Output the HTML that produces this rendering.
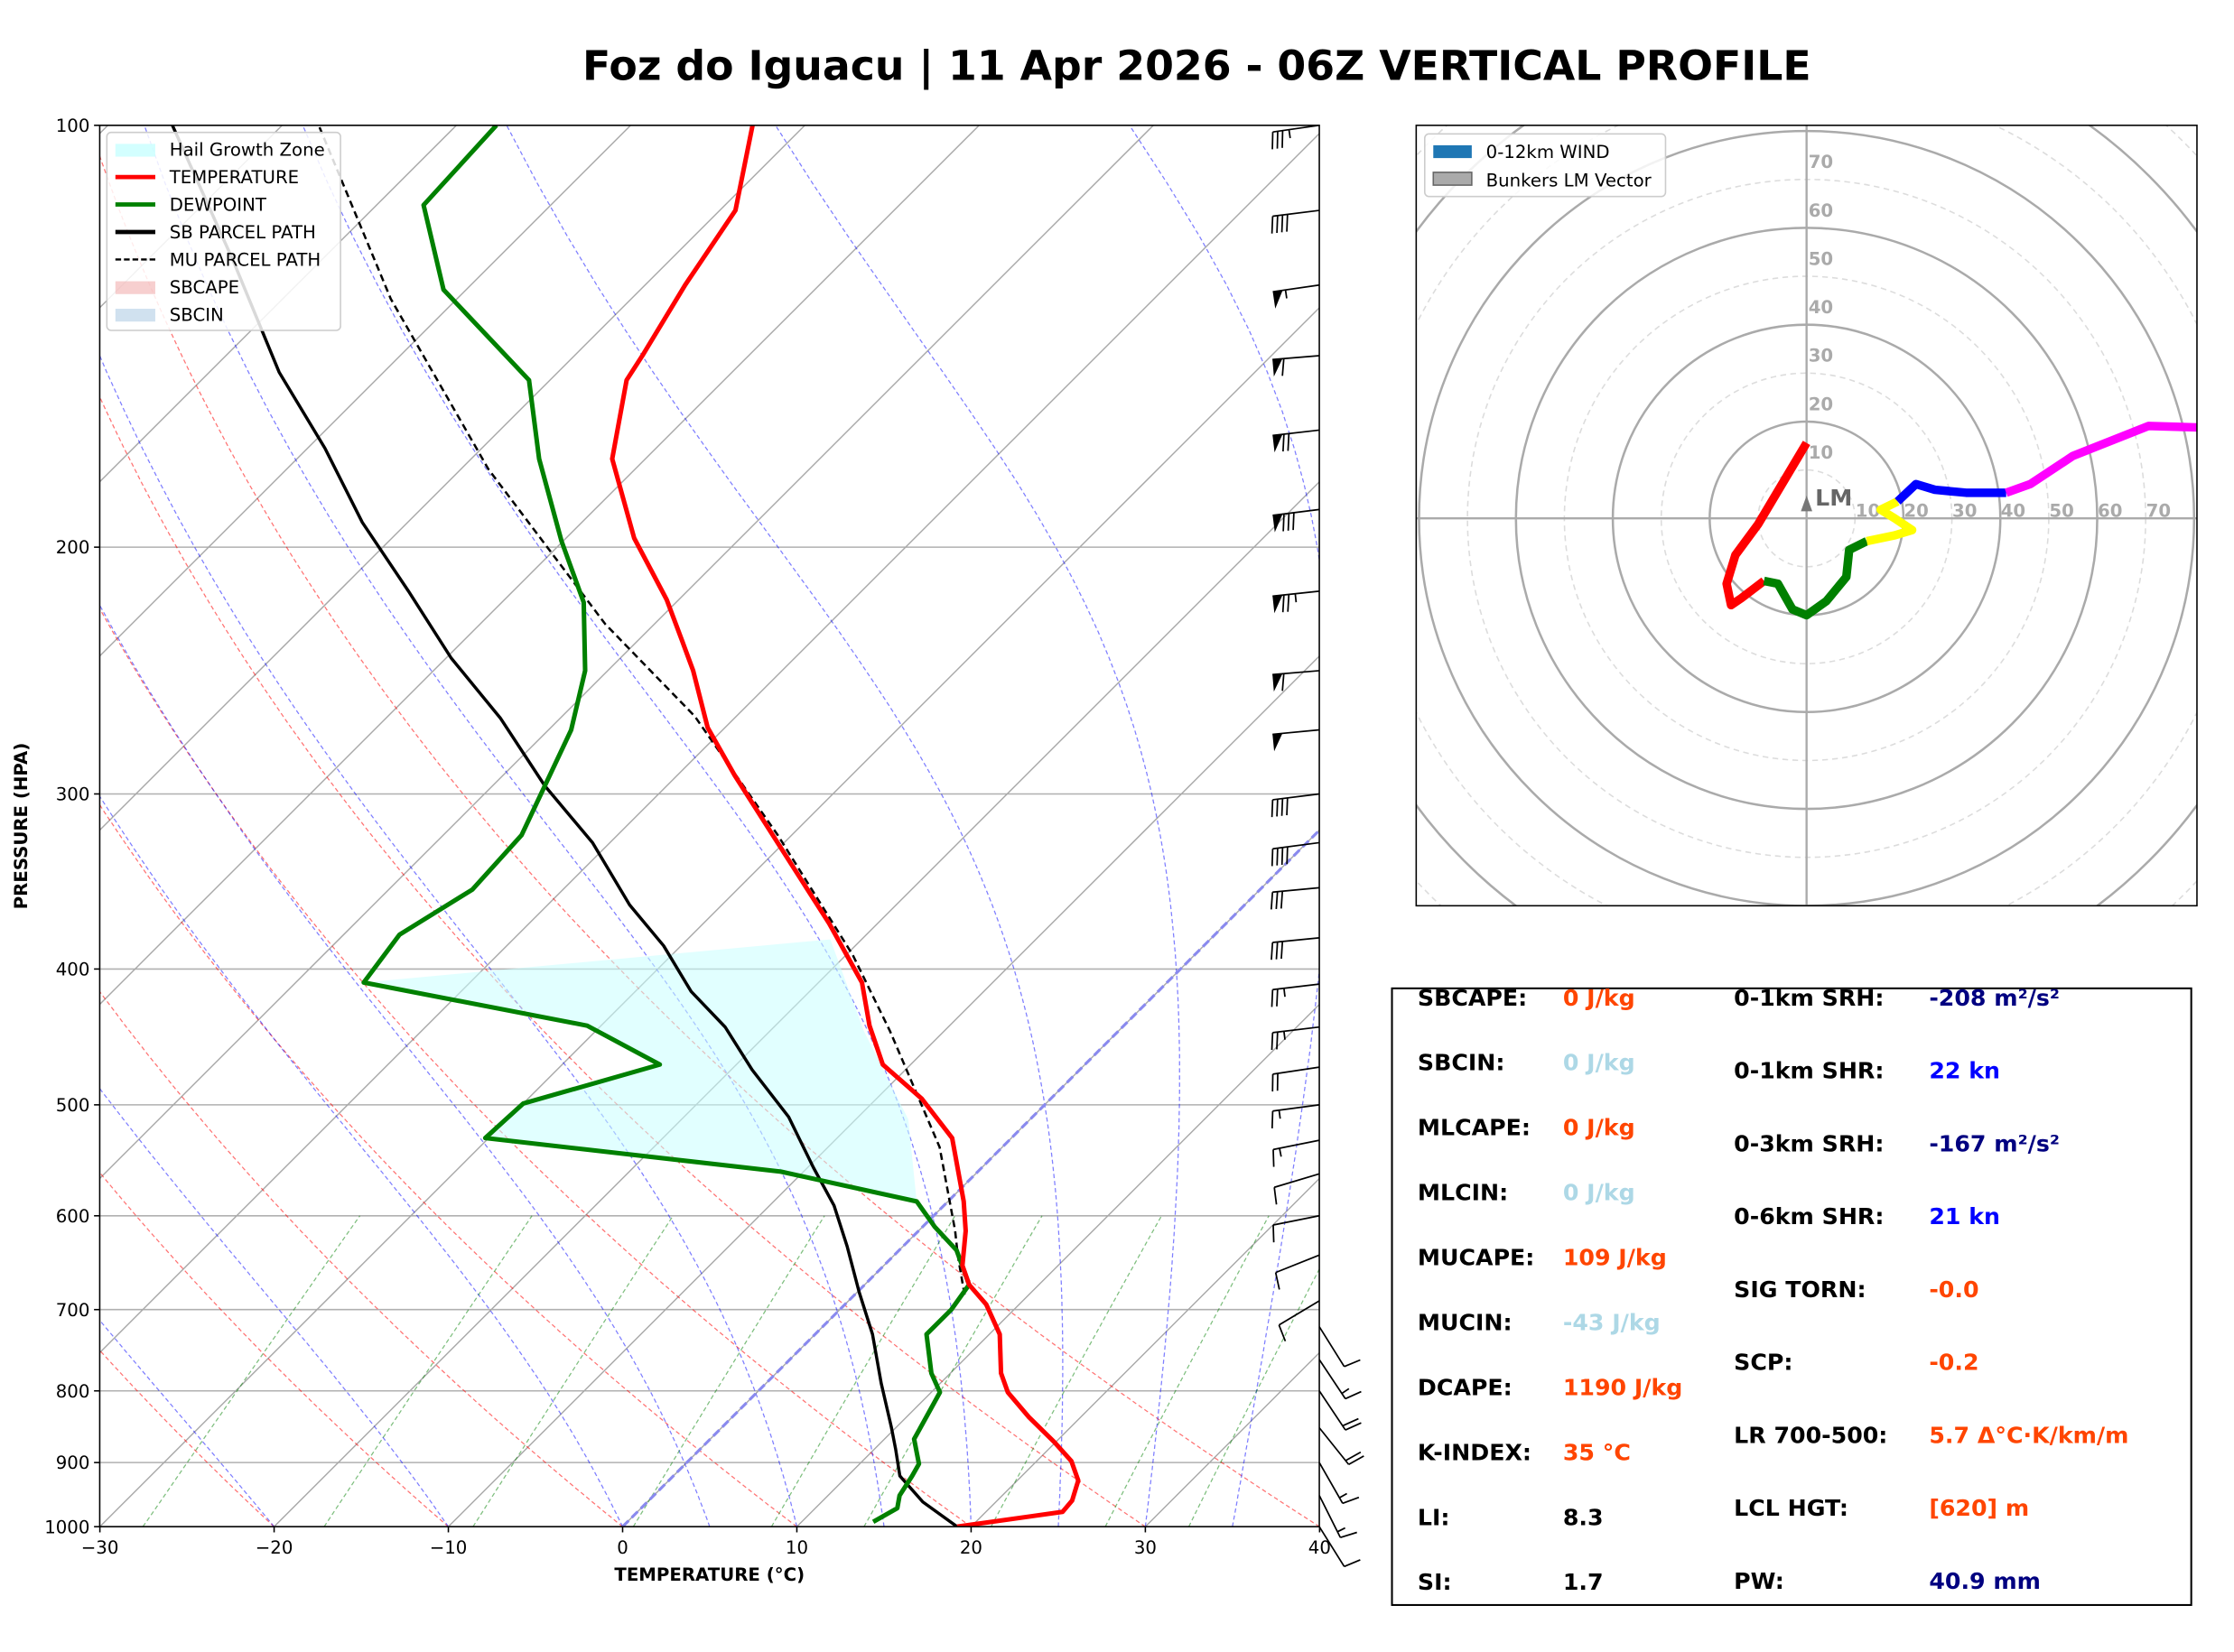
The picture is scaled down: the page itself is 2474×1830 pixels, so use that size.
<!DOCTYPE html>
<html><head><meta charset="utf-8"><style>
html,body{margin:0;padding:0;background:#fff}
svg{display:block}
text{font-family:"DejaVu Sans","Liberation Sans",sans-serif}
</style></head><body>
<svg id="fig" xmlns="http://www.w3.org/2000/svg" width="2474" height="1830" viewBox="0 0 1568 1160" preserveAspectRatio="none">
<rect x="0" y="0" width="1568" height="1160" fill="#fff"/>
<text x="840" y="56" font-size="29" font-weight="bold" text-anchor="middle">Foz do Iguacu | 11 Apr 2026 - 06Z VERTICAL PROFILE</text>
<defs><clipPath id="skc"><rect x="70" y="88" width="856" height="984"/></clipPath>
<clipPath id="hoc"><rect x="994" y="88" width="548" height="548"/></clipPath></defs>
<g id="skew"></g>
<g id="hodo"></g>
<g id="table">
<rect x="977" y="694" width="561" height="433" fill="#fff" stroke="#000" stroke-width="1.3"/>
</g>
</svg>
<script>
// ---------- DATA ----------
const tempP = [1000,976,958,927,898,870,835,802,777,729,694,672,651,615,586,528,495,468,439,409,371,326,291,269,245,233,218,197,173,152,146,130,115,100];
const tempT = [19.2,24.4,24.3,23.5,22,19.9,17,14.4,12.9,10.6,8.1,6,4.5,2.7,0.9,-3.4,-7.4,-11.6,-14.6,-17.5,-22.8,-30.2,-36.7,-41,-45.1,-47.5,-50.7,-56.1,-61.9,-65.6,-66.1,-67.7,-69.1,-73];
const dewP = [992,970,950,920,902,866,828,802,777,729,700,672,635,611,586,558,528,499,468,439,409,378,351,321,270,245,219,198,173,152,131,114,100];
const dewT = [14.1,14.7,14.1,13.7,13.4,11.7,11,10.5,8.9,6.4,6.4,6.0,3.3,0.7,-1.8,-11.3,-30.2,-30,-24.4,-30.8,-46.1,-46.8,-45.2,-45.5,-48.7,-51.3,-55.3,-60.1,-66.1,-71.2,-81.3,-87.3,-87.7];
const sbP = [1000,960,920,880,849,790,729,680,631,590,554,510,472,440,415,385,360,325,296,265,240,215,192,170,150,125,100];
const sbT = [19.2,15.8,13,11.2,9.7,6.6,3.3,0.1,-3.2,-6.3,-9.7,-14,-18.8,-22.8,-26.8,-31,-35.3,-41,-47,-53.4,-59.7,-66,-72.6,-79,-86,-95,-106.3];
const muP = [683,641,615,536,443,391,321,264,227,176,133,100];
const muT = [6.3,3.7,2.1,-3.6,-13.1,-19.6,-30.8,-42.4,-52.8,-68.4,-83.8,-97.9];
const hailP = [586,558,528,499,468,439,409,381,443,512,586];
const hailT = [-1.8,-11.3,-30.2,-30,-24.4,-30.8,-46.1,-21.8,-14.6,-7,-1.8];
const pTicks = [100,200,300,400,500,600,700,800,900,1000];
const tTicks = [-30,-20,-10,0,10,20,30,40];
const barbP = [100,115,130,146,165,188,215,245,270,300,325,350,380,410,440,470,500,530,560,600,640,690,720,760,800,850,900,950,1000];
const barbU = [35,40,55,60,70,80,75,60,52,40,38,32,30,25,25,20,15,15,10,10,10,10,-5,-8,-10,-12,-8,-6,-5];
const barbV = [-5,-5,-8,-5,-8,-10,-8,-5,-5,-5,-5,-3,-3,-3,-3,-3,-2,-3,-3,-2,-4,-6,-8,-12,-15,-15,-14,-12,-8];
const hodoSegColors = ['red','green','yellow','blue','magenta'];
const hodoU0 = [0,-10,-14.7,-16.5,-15.6,-13.5,-8.8];
const hodoV0 = [15.6,-1.2,-7.6,-13.5,-17.9,-16.5,-12.9];
const hodoU1 = [-8.8,-5.9,-2.9,0,4.1,8.2,8.8,12.4];
const hodoV1 = [-12.9,-13.5,-18.8,-20,-17.1,-12.1,-6.5,-4.7];
const hodoU2 = [12.4,18.2,21.8,18.2,15.3,18.8];
const hodoV2 = [-4.7,-3.5,-2.4,0,1.8,3.5];
const hodoU3 = [18.8,22.6,26.5,32.9,41.2];
const hodoV3 = [3.5,7.1,5.9,5.3,5.3];
const hodoU4 = [41.2,46.2,55,70.6,80.6];
const hodoV4 = [5.3,7.1,12.9,19.1,18.8];
const leftLabels = ['SBCAPE:','SBCIN:','MLCAPE:','MLCIN:','MUCAPE:','MUCIN:','DCAPE:','K-INDEX:','LI:','SI:'];
const leftValues = ['0 J/kg','0 J/kg','0 J/kg','0 J/kg','109 J/kg','-43 J/kg','1190 J/kg','35 °C','8.3','1.7'];
const leftColors = ['#ff4500','#add8e6','#ff4500','#add8e6','#ff4500','#add8e6','#ff4500','#ff4500','#000','#000'];
const rightLabels = ['0-1km SRH:','0-1km SHR:','0-3km SRH:','0-6km SHR:','SIG TORN:','SCP:','LR 700-500:','LCL HGT:','PW:'];
const rightValues = ['-208 m²/s²','22 kn','-167 m²/s²','21 kn','-0.0','-0.2','5.7 Δ°C·K/km/m','[620] m','40.9 mm'];
const rightColors = ['#000080','#0000ff','#000080','#0000ff','#ff4500','#ff4500','#ff4500','#ff4500','#000080'];

// ---------- HELPERS ----------
const NS='http://www.w3.org/2000/svg';
function mk(parent,tag,attrs,txt){const e=document.createElementNS(NS,tag);for(const k in attrs)e.setAttribute(k,attrs[k]);if(txt!==undefined)e.textContent=txt;parent.appendChild(e);return e;}
const L=70,R=926,T0=88,B=1072;
function yP(p){return B-Math.log10(1000/p)*984;}
function xT(t,p){return 437+12.23*t+(B-yP(p));}
function pathTP(ps,ts){return ps.map((p,i)=>(i?'L':'M')+xT(ts[i],p).toFixed(1)+' '+yP(p).toFixed(1)).join(' ');}
function minus(s){return String(s).replace('-','\u2212');}

const skew=document.getElementById('skew');
const bg=mk(skew,'g',{'clip-path':'url(#skc)'});


pTicks.forEach(p=>{const l=mk(bg,'line',{x1:L,x2:R,y1:yP(p),y2:yP(p),stroke:'#b0b0b0','stroke-width':1});

});
for(let t=-130;t<=40;t+=10){const l=mk(bg,'line',{x1:xT(t,1000),y1:yP(1000),x2:xT(t,100),y2:yP(100),stroke:'#a8a8a8','stroke-width':0.9});

}
const plist=[];for(let p=1000;p>=100;p-=5)plist.push(p);
for(let t=-40;t<=40;t+=10){const th=t+273.15;const ts=plist.map(p=>th*Math.pow(p/1000,0.286)-273.15);
const l=mk(bg,'path',{d:pathTP(plist,ts),fill:'none',stroke:'rgba(255,0,0,0.55)','stroke-width':0.8,'stroke-dasharray':'3,2'});

}
function es(tc){return 6.112*Math.exp(17.67*tc/(tc+243.5));}
[-20,-10,0,5,10,15,20,25,30,35].forEach(t0=>{let T=t0+273.15;const ps=[1000],ts=[t0];
for(let p=1000;p>100;p-=2){const tc=T-273.15;const e=es(tc);const rs=0.622*e/(p-e);
const dTdp=(287.04*T+2.501e6*rs)/(1005.7+2.501e6*2.501e6*rs*0.622/(287.04*T*T))/p;T-=dTdp*2;
if((p-2)%10===0){ps.push(p-2);ts.push(T-273.15);}}
const l=mk(bg,'path',{d:pathTP(ps,ts),fill:'none',stroke:'rgba(0,0,255,0.5)','stroke-width':0.8,'stroke-dasharray':'3,2'});

});
[0.0004,0.001,0.002,0.004,0.007,0.01,0.016,0.024,0.032].forEach(w=>{const ps=[],ts=[];
for(let p=1000;p>=600;p-=20){const e=w*p/(0.622+w);const a=Math.log(e/6.112);ps.push(p);ts.push(243.5*a/(17.67-a));}
const l=mk(bg,'path',{d:pathTP(ps,ts),fill:'none',stroke:'rgba(0,128,0,0.5)','stroke-width':0.8,'stroke-dasharray':'3,2'});

});
const zi=mk(bg,'line',{x1:xT(0,1000),y1:yP(1000),x2:xT(0,100),y2:yP(100),stroke:'#8a8aee','stroke-width':2,'stroke-dasharray':'6,3'});



const fg=mk(skew,'g',{'clip-path':'url(#skc)'});
const hail=mk(fg,'path',{d:pathTP(hailP,hailT)+'Z',fill:'rgba(200,255,255,0.55)',stroke:'none'});


const sb=mk(fg,'path',{d:pathTP(sbP,sbT),fill:'none',stroke:'#000','stroke-width':2.2,'stroke-linejoin':'round'});


const mu=mk(fg,'path',{d:pathTP(muP,muT),fill:'none',stroke:'#000','stroke-width':1.6,'stroke-dasharray':'5,3'});


const dw=mk(fg,'path',{d:pathTP(dewP,dewT),fill:'none',stroke:'#008000','stroke-width':3.2,'stroke-linejoin':'round'});


const tl=mk(fg,'path',{d:pathTP(tempP,tempT),fill:'none',stroke:'#ff0000','stroke-width':3.2,'stroke-linejoin':'round'});



// barbs
barbP.forEach((p,i)=>{const u=barbU[i],v=barbV[i];const spd=Math.hypot(u,v);
const x0=R,y0=yP(p);const dx=-u/spd,dy=-v/spd;const Ls=33;
const xe=x0+dx*Ls,ye=y0+dy*Ls;const g=mk(skew,'g',{});


mk(g,'line',{x1:x0,y1:y0,x2:xe,y2:ye,stroke:'#000','stroke-width':1.1});
let s=Math.round(spd/5)*5;let pos=0;const nx=-dy,ny=dx;const bl=12;
while(s>=50){const ax=xe-dx*pos,ay=ye-dy*pos;const bx=xe-dx*(pos+7),by=ye-dy*(pos+7);
mk(g,'path',{d:`M${ax} ${ay}L${ax-nx*bl} ${ay-ny*bl}L${bx} ${by}Z`,fill:'#000'});pos+=8;s-=50;}
while(s>=10){const ax=xe-dx*pos,ay=ye-dy*pos;mk(g,'line',{x1:ax,y1:ay,x2:ax-nx*bl+dx*2,y2:ay-ny*bl+dy*2,stroke:'#000','stroke-width':1.1});pos+=3.5;s-=10;}
if(s>=5){const ax=xe-dx*(pos+1),ay=ye-dy*(pos+1);mk(g,'line',{x1:ax,y1:ay,x2:ax-nx*bl/2,y2:ay-ny*bl/2,stroke:'#000','stroke-width':1.1});}
});

const fr=mk(skew,'rect',{x:L,y:T0,width:R-L,height:B-T0,fill:'none',stroke:'#000','stroke-width':1});


pTicks.forEach(p=>{mk(skew,'line',{x1:L-4,x2:L,y1:yP(p),y2:yP(p),stroke:'#000'});
const t=mk(skew,'text',{x:L-7,y:yP(p)+4.5,'font-size':12.5,'text-anchor':'end'},String(p));

});
tTicks.forEach(v=>{const x=437+12.23*v;mk(skew,'line',{x1:x,x2:x,y1:B,y2:B+4,stroke:'#000'});
const t=mk(skew,'text',{x:x,y:B+19,'font-size':12.5,'text-anchor':'middle'},minus(v));

});
const xl=mk(skew,'text',{x:498,y:1110,'font-size':12.5,'font-weight':'bold','text-anchor':'middle'},'TEMPERATURE (°C)');


const yl=mk(skew,'text',{x:19,y:580,'font-size':12.5,'font-weight':'bold','text-anchor':'middle',transform:'rotate(-90 19 580)'},'PRESSURE (HPA)');



const lg=mk(skew,'g',{});


mk(lg,'rect',{x:75,y:93,width:164,height:139,fill:'rgba(255,255,255,0.85)',stroke:'#ccc',rx:3});
const items=[['Hail Growth Zone','patch','rgba(200,255,255,0.8)'],['TEMPERATURE','line','#ff0000'],['DEWPOINT','line','#008000'],['SB PARCEL PATH','line','#000'],['MU PARCEL PATH','dash','#000'],['SBCAPE','patch','rgba(240,160,160,0.5)'],['SBCIN','patch','rgba(120,170,210,0.35)']];
items.forEach((it,i)=>{const y=105+i*19.3;const e=mk(lg,'g',{});


if(it[1]==='patch')mk(e,'rect',{x:81,y:y-4,width:28,height:9,fill:it[2]});
else mk(e,'line',{x1:81,x2:109,y1:y,y2:y,stroke:it[2],'stroke-width':it[1]==='dash'?1.5:3,'stroke-dasharray':it[1]==='dash'?'4,2':'none'});
mk(e,'text',{x:119,y:y+4.5,'font-size':12.5},it[0]);});

// ---------- HODOGRAPH ----------
const ho=document.getElementById('hodo');const cx=1268,cy=364,k=3.4;
const hg=mk(ho,'g',{'clip-path':'url(#hoc)'});
for(let r=10;r<=120;r+=10){const c=mk(hg,'circle',{cx,cy,r:r*k,fill:'none',stroke:r%20?'#dcdcdc':'#aaa','stroke-width':r%20?1:1.6,'stroke-dasharray':r%20?'4,3':'none'});

}
mk(hg,'line',{x1:994,x2:1542,y1:cy,y2:cy,stroke:'#aaa','stroke-width':1.5});
mk(hg,'line',{x1:cx,x2:cx,y1:88,y2:636,stroke:'#aaa','stroke-width':1.5});
for(let r=10;r<=70;r+=10){mk(hg,'text',{x:cx+r*k+9,y:cy-1,'font-size':12.5,'font-weight':'bold',fill:'#aaa','text-anchor':'middle'},String(r));
mk(hg,'text',{x:cx+10,y:cy-r*k-8,'font-size':12.5,'font-weight':'bold',fill:'#aaa','text-anchor':'middle'},String(r));}
const hus=[hodoU0,hodoU1,hodoU2,hodoU3,hodoU4],hvs=[hodoV0,hodoV1,hodoV2,hodoV3,hodoV4];
hus.forEach((us,j)=>{const d=us.map((u,i)=>(i?'L':'M')+(cx+u*k).toFixed(1)+' '+(cy-hvs[j][i]*k).toFixed(1)).join(' ');
const s=mk(hg,'path',{d,fill:'none',stroke:hodoSegColors[j],'stroke-width':6,'stroke-linejoin':'round'});

});
const lm=mk(hg,'g',{});


mk(lm,'path',{d:`M${cx-4} ${cy-5}L${cx} ${cy-16}L${cx+4} ${cy-5}Z`,fill:'#777'});
mk(lm,'text',{x:cx+6,y:cy-9,'font-size':16,'font-weight':'bold',fill:'#666'},'LM');
mk(ho,'rect',{x:994,y:88,width:548,height:548,fill:'none',stroke:'#000','stroke-width':1});
const hl=mk(ho,'g',{});


mk(hl,'rect',{x:1000,y:94,width:169,height:44,fill:'rgba(255,255,255,0.85)',stroke:'#ccc',rx:3});
mk(hl,'rect',{x:1006,y:102,width:27,height:9,fill:'#1f77b4'});
mk(hl,'text',{x:1043,y:111,'font-size':12.5},'0-12km WIND');
mk(hl,'rect',{x:1006,y:121,width:27,height:9,fill:'#aaa',stroke:'#666'});
mk(hl,'text',{x:1043,y:131,'font-size':12.5},'Bunkers LM Vector');

// ---------- TABLE ----------
const tb=document.getElementById('table');
leftLabels.forEach((l,i)=>{const y=706+i*45.6;
const a=mk(tb,'text',{x:995,y,'font-size':16,'font-weight':'bold'},l);


const b=mk(tb,'text',{x:1097,y,'font-size':16,'font-weight':'bold',fill:leftColors[i]},leftValues[i]);

});
rightLabels.forEach((l,i)=>{const y=706+i*51.2;
const a=mk(tb,'text',{x:1217,y,'font-size':16,'font-weight':'bold'},l);


const b=mk(tb,'text',{x:1354,y,'font-size':16,'font-weight':'bold',fill:rightColors[i]},rightValues[i]);

});
</script>
</body></html>
